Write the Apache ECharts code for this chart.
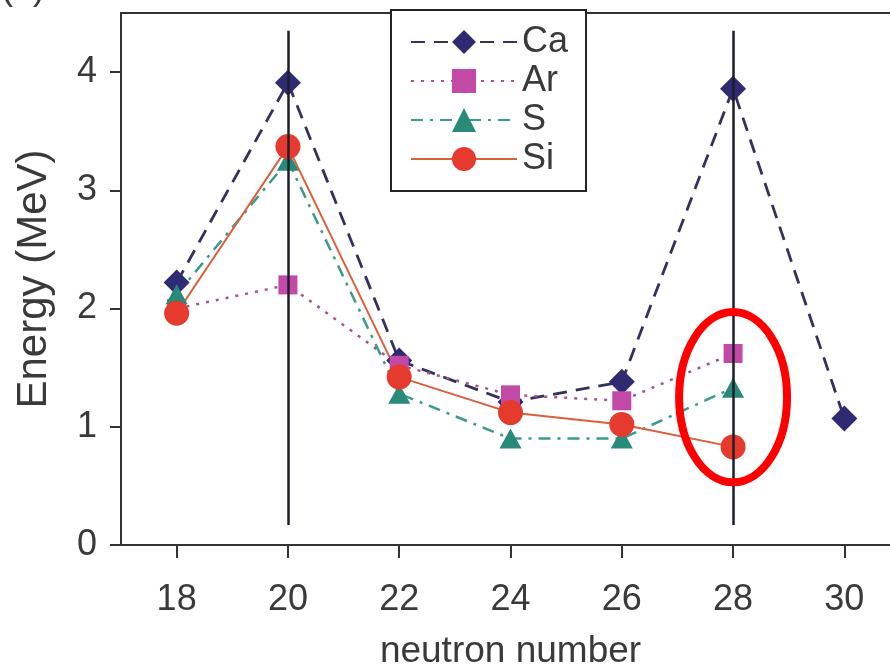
<!DOCTYPE html>
<html>
<head>
<meta charset="utf-8">
<script src="https://cdn.jsdelivr.net/npm/echarts@6/dist/echarts.min.js"></script>
<style>html,body{margin:0;padding:0;background:#fff;}#c{width:890px;height:671px;}</style>
</head>
<body>
<div id="c"></div>
<script>
const neutronNumbers = [18, 20, 22, 24, 26, 28, 30];
const xTicks = [18, 20, 22, 24, 26, 28, 30];
const yTicks = [0, 1, 2, 3, 4];
const caValues = [2.22, 3.91, 1.56, 1.21, 1.38, 3.86, 1.07];
const arValues = [2.0, 2.2, 1.52, 1.27, 1.22, 1.62];
const sValues = [2.12, 3.25, 1.28, 0.9, 0.9, 1.33];
const siValues = [1.96, 3.37, 1.42, 1.12, 1.02, 0.83];
const shellLines = [20, 28];
const highlight = { x: 28, y: 1.25, dx: 0.97, dy: 0.72 };

const FONT = 'Liberation Sans, Arial, sans-serif';
const TXT = '#3a3a3a';
function pairs(vals) { return vals.map((v, i) => [neutronNumbers[i], v]); }

const chart = echarts.init(document.getElementById('c'), null, { renderer: 'canvas' });
const option = {
  backgroundColor: '#fff',
  animation: false,
  grid: { left: 121, top: 13, width: 779, bottom: 126, outerBoundsMode: 'none', containLabel: false, show: false },
  legend: {
    orient: 'vertical', left: 391, top: 10,
    padding: [14, 18, 14, 19],
    itemWidth: 106, itemHeight: 30, itemGap: 3,
    borderColor: '#222', borderWidth: 2, backgroundColor: '#fff',
    textStyle: { fontFamily: FONT, fontSize: 36, lineHeight: 30, color: TXT },
    data: ['Ca', 'Ar', 'S', 'Si']
  },
  xAxis: [{
    type: 'value', min: 17, max: 31,
    name: 'neutron number', nameLocation: 'middle', nameGap: 88,
    nameTextStyle: { fontFamily: FONT, fontSize: 37, color: TXT },
    axisLine: { show: true, lineStyle: { color: '#333', width: 2 } },
    axisTick: { show: true, inside: false, length: 13, lineStyle: { color: '#333', width: 2 }, customValues: xTicks },
    axisLabel: { fontFamily: FONT, fontSize: 36, color: TXT, margin: 37, customValues: xTicks },
    splitLine: { show: false }
  }, {
    type: 'value', position: 'top', min: 17, max: 31,
    axisLine: { show: true, lineStyle: { color: '#333', width: 2 } },
    axisTick: { show: false }, axisLabel: { show: false }, splitLine: { show: false }
  }],
  yAxis: {
    type: 'value', min: 0, max: 4.5,
    name: 'Energy (MeV)', nameLocation: 'middle', nameGap: 66,
    nameTextStyle: { fontFamily: FONT, fontSize: 42, color: TXT },
    axisLine: { show: true, lineStyle: { color: '#333', width: 2 } },
    axisTick: { show: true, length: 11, lineStyle: { color: '#333', width: 2 }, customValues: yTicks },
    axisLabel: { fontFamily: FONT, fontSize: 36, color: TXT, margin: 24, customValues: yTicks },
    splitLine: { show: false }
  },
  series: [
    {
      name: 'Ca', type: 'line', data: pairs(caValues),
      symbol: 'diamond', symbolSize: [26, 26],
      itemStyle: { color: '#2f2b72' },
      lineStyle: { color: '#34315f', width: 2.8, type: [14, 9] },
      markLine: {
        silent: true, symbol: 'none', label: { show: false },
        lineStyle: { color: '#1e1e28', width: 2.5, type: 'solid' },
        data: shellLines.map(x => [{ coord: [x, 0.17] }, { coord: [x, 4.35] }])
      }
    },
    {
      name: 'Ar', type: 'line', data: pairs(arValues),
      symbol: 'rect', symbolSize: 19,
      itemStyle: { color: '#c24aa6' },
      lineStyle: { color: '#a45590', width: 2.5, type: [3, 7] }
    },
    {
      name: 'S', type: 'line', data: pairs(sValues),
      symbol: 'triangle', symbolSize: [22, 20],
      itemStyle: { color: '#2a8a7a' },
      lineStyle: { color: '#3c9a8c', width: 2.5, type: [12, 7, 3, 7] }
    },
    {
      name: 'Si', type: 'line', data: pairs(siValues),
      symbol: 'circle', symbolSize: 25,
      itemStyle: { color: '#e63a2e' },
      lineStyle: { color: '#dc5e3a', width: 2 }
    }
  ]
};
chart.setOption(option);

const c0 = chart.convertToPixel({ gridIndex: 0 }, [highlight.x, highlight.y]);
const c1 = chart.convertToPixel({ gridIndex: 0 }, [highlight.x + highlight.dx, highlight.y + highlight.dy]);
chart.setOption({
  graphic: [{
    type: 'ellipse', z: 100,
    shape: { cx: c0[0], cy: c0[1], rx: Math.abs(c1[0] - c0[0]), ry: Math.abs(c1[1] - c0[1]) },
    style: { fill: 'none', stroke: '#ff0000', lineWidth: 8 }
  }, {
    type: 'text', z: 100, x: 1, y: 7,
    style: { text: '(a)', fontFamily: FONT, fontSize: 36, fill: TXT, verticalAlign: 'bottom', align: 'left' }
  }]
});
</script>
</body>
</html>
